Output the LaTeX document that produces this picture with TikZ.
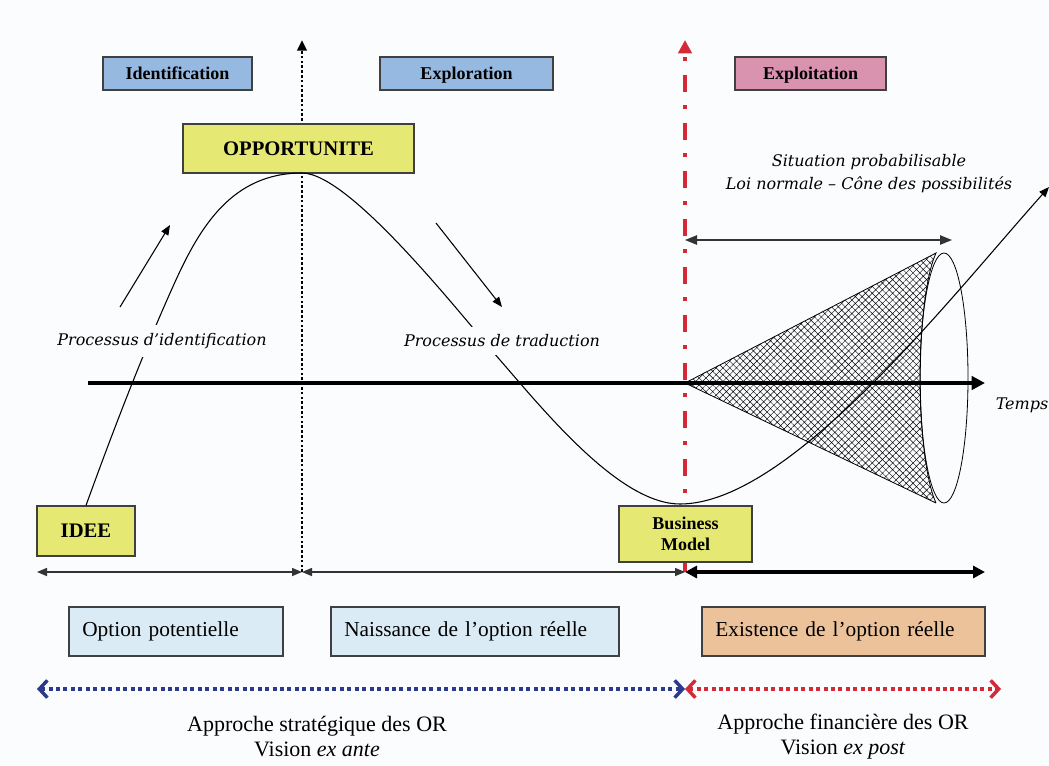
\documentclass[tikz,border=0pt]{standalone}
\usepackage{fontspec}
\setmainfont{Liberation Serif}
\newfontfamily\slabfont{DejaVu Serif}
\usetikzlibrary{arrows.meta,patterns.meta}

\definecolor{bgcol}{RGB}{251,252,254}
\definecolor{phaseblue}{RGB}{149,185,225}
\definecolor{phasepink}{RGB}{218,147,175}
\definecolor{keyyellow}{RGB}{230,232,116}
\definecolor{optblue}{RGB}{218,235,245}
\definecolor{optpeach}{RGB}{236,194,155}
\definecolor{orred}{RGB}{212,42,53}
\definecolor{ornavy}{RGB}{43,58,140}

\tikzset{
  boxline/.style={draw=black!75, line width=0.9pt},
  phase/.style={boxline, minimum height=24.75pt, inner sep=0pt, text height=9pt, text depth=0pt, font=\bfseries\fontsize{13.5}{15}\selectfont},
  keybox/.style={boxline, fill=keyyellow, inner sep=0pt, align=center},
  optbox/.style={boxline, minimum height=36.75pt, inner xsep=10pt, inner ysep=0pt, align=left, font=\fontsize{16}{18}\selectfont},
  proc/.style={font=\slabfont\itshape\fontsize{12}{17}\selectfont, fill=bgcol, inner xsep=3pt, inner ysep=6pt},
  note/.style={font=\slabfont\itshape\fontsize{12}{17}\selectfont, align=center},
  approche/.style={align=center, font=\fontsize{16.5}{18.75}\selectfont},
  thinarrow/.style={draw=black!80, line width=1.1pt, {Triangle[length=7.5pt,width=6pt]}-{Triangle[length=7.5pt,width=6pt]}},
  barbs/.style={line width=2.4pt, dash pattern=on 3pt off 2.6pt, {Straight Barb[length=6pt,width=13pt,line width=2.6pt]}-{Straight Barb[length=6pt,width=13pt,line width=2.6pt]}}
}

\begin{document}
\begin{tikzpicture}[x=0.75pt, y=-0.75pt, >={Triangle[length=7.5pt,width=6pt]}]
  \useasboundingbox (0,0) rectangle (1049,765);
  \fill[bgcol] (0,0) rectangle (1049,765);

  % points of the frame
  \coordinate (apex) at (685,383);
  \coordinate (t0) at (88,383);
  \coordinate (t1) at (985,383);
  \coordinate (dottop) at (302,40);
  \coordinate (dotbot) at (302,572);
  \coordinate (redtop) at (685,40);
  \coordinate (redbot) at (685,572);
  \coordinate (conetop) at (936,253);
  \coordinate (conebot) at (936,503);
  \coordinate (conemid) at (944,378);
  \coordinate (spanleft) at (685,240);
  \coordinate (spanright) at (952,240);
  \coordinate (peak) at (302,173);
  \coordinate (trough) at (680,504);
  \coordinate (curveend) at (1049,187);

  % cone of possibilities
  \fill[pattern={Hatch[angle=45,distance=3.6pt,line width=0.35pt]}]
    (apex) -- (conetop) .. controls (915,300) and (915,456) .. (conebot) -- cycle;
  \draw[line width=0.6pt] (conebot) -- (apex) -- (conetop) .. controls (915,300) and (915,456) .. (conebot);
  \draw[line width=0.6pt] (conemid) ellipse [x radius=24, y radius=125];

  % time axis
  \draw[line width=3pt, -{Triangle[length=10pt,width=10pt]}] (t0) -- (t1);
  \node[note] (temps) at (1022,405) {Temps};

  % phase separators
  \draw[line width=2pt, dash pattern=on 2pt off 1.6pt, -{Triangle[length=8pt,width=7pt]}] (dotbot) -- (dottop);
  \draw[orred, line width=3pt, dash pattern=on 13pt off 10pt on 3pt off 10pt, -{Triangle[length=10pt,width=10pt]}] (redbot) -- (redtop);

  % phases
  \node[phase, fill=phaseblue, minimum width=111.75pt] (ident) at (177.5,73.5) {Identification};
  \node[phase, fill=phaseblue, minimum width=129.75pt] (explo) at (466.5,73.5) {Exploration};
  \node[phase, fill=phasepink, minimum width=113.25pt] (exploit) at (810.5,73.5) {Exploitation};

  % key steps
  \node[keybox, minimum width=173.25pt, minimum height=36.75pt, font=\bfseries\fontsize{15.5}{18}\selectfont] (opp) at (298.5,148.5) {OPPORTUNITE};
  \node[keybox, minimum width=73.5pt, minimum height=37.5pt, font=\bfseries\fontsize{15.5}{18}\selectfont] (idee) at (86,531) {IDEE};
  \node[keybox, minimum width=99.75pt, minimum height=42pt, font=\bfseries\fontsize{13.5}{15.5}\selectfont] (bm) at (685.5,534) {Business\\Model};

  % the path of the option
  \draw[line width=0.8pt, ->] (idee.north)
    .. controls (113,431) and (142,355) .. (175,282)
    .. controls (200,227) and (232,173) .. (peak)
    .. controls (350,173) and (461,315) .. (500,360)
    .. controls (546,413) and (620,504) .. (trough)
    .. controls (790,504) and (949,299) .. (curveend);

  \node[proc] (procid) at (162,341) {Processus d’identification};
  \node[proc] (proctr) at (502,341) {Processus de traduction};
  \draw[line width=0.8pt, ->] (120,307) -- (170,225);
  \draw[line width=0.8pt, ->] (436,223) -- (502,307);

  % span of the cone
  \draw[line width=1.1pt, draw=black!80, {Triangle[length=9pt,width=7pt]}-{Triangle[length=9pt,width=7pt]}] (spanleft) -- (spanright);
  \node[note] (situ) at (869,173.5) {Situation probabilisable\\Loi normale – Cône des possibilités};

  % periods
  \coordinate (a1) at (37,572);
  \coordinate (a4) at (985,572);
  \draw[thinarrow] (a1) -- (dotbot);
  \draw[thinarrow] (dotbot) -- (redbot);
  \draw[line width=2.4pt, {Triangle[length=9pt,width=9pt]}-{Triangle[length=9pt,width=9pt]}] (redbot) -- (a4);

  \node[optbox, fill=optblue, text width=140.5pt] (optpot) at (176,631.5) {Option potentielle};
  \node[optbox, fill=optblue, text width=196pt] (naiss) at (475,631.5) {Naissance de l’option réelle};
  \node[optbox, fill=optpeach, text width=192.25pt] (exist) at (843.5,631.5) {Existence de l’option réelle};

  % approaches
  \coordinate (b1) at (37,689);
  \coordinate (b2) at (685,689);
  \coordinate (b3) at (1001,689);
  \draw[barbs, ornavy] (b1) -- (b2);
  \draw[barbs, orred] (b2) -- (b3);

  \node[approche] (strat) at (317,737) {Approche stratégique des OR\\Vision \textit{ex ante}};
  \node[approche] (fin) at (843,737) {Approche financière des OR\\Vision \textit{ex post}};
\end{tikzpicture}
\end{document}
